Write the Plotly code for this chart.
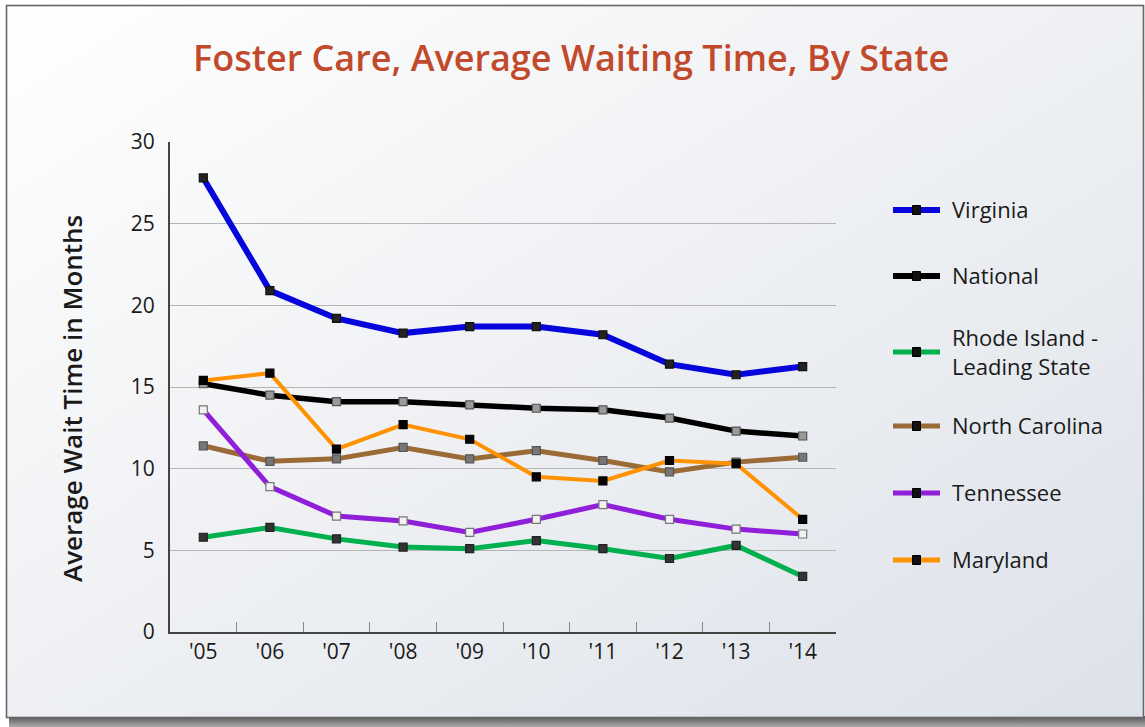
import base64
import plotly.graph_objects as go

W, H = 1145, 727

years = ["'05", "'06", "'07", "'08", "'09", "'10", "'11", "'12", "'13", "'14"]
series_names = ["Virginia", "National", "Rhode Island -<br>Leading State",
                "North Carolina", "Tennessee", "Maryland"]
virginia = [27.8, 20.9, 19.2, 18.3, 18.7, 18.7, 18.2, 16.4, 15.75, 16.25]
national = [15.2, 14.5, 14.1, 14.1, 13.9, 13.7, 13.6, 13.1, 12.3, 12.0]
rhode_island = [5.8, 6.4, 5.7, 5.2, 5.1, 5.6, 5.1, 4.5, 5.3, 3.4]
north_carolina = [11.4, 10.45, 10.6, 11.3, 10.6, 11.1, 10.5, 9.8, 10.4, 10.7]
tennessee = [13.6, 8.9, 7.1, 6.8, 6.1, 6.9, 7.8, 6.9, 6.3, 6.0]
maryland = [15.4, 15.85, 11.2, 12.7, 11.8, 9.5, 9.25, 10.5, 10.3, 6.9]
y_ticks = [0, 5, 10, 15, 20, 25, 30]

line_colors = ["#0505dc", "#000000", "#00b04f", "#9a6a37", "#8f1fd8", "#ff9200"]
line_widths = [6, 5.5, 5, 5, 5, 4]
marker_fill = ["#222222", "#9a9a9a", "#333333", "#777777", "#f2f2f2", "#050505"]
marker_line = ["#111111", "#555555", "#222222", "#555555", "#777777", "#000000"]
values = [virginia, national, rhode_island, north_carolina, tennessee, maryland]

# background frame as svg image
svg = f'''<svg xmlns="http://www.w3.org/2000/svg" width="{W}" height="{H}" viewBox="0 0 {W} {H}">
<defs>
<linearGradient id="g" x1="0" y1="0" x2="1" y2="1">
<stop offset="0" stop-color="#ffffff"/>
<stop offset="0.5" stop-color="#eef0f3"/>
<stop offset="1" stop-color="#dde2ea"/>
</linearGradient>
<linearGradient id="s" x1="0" y1="0" x2="0" y2="1">
<stop offset="0" stop-color="#555555"/>
<stop offset="1" stop-color="#aaaaaa"/>
</linearGradient>
</defs>
<rect x="0" y="0" width="{W}" height="{H}" fill="#ffffff"/>
<rect x="9" y="716" width="{W-9}" height="11" fill="url(#s)"/>
<rect x="6.5" y="5.5" width="1137" height="712" fill="url(#g)" stroke="#666666" stroke-width="1.6"/>
</svg>'''
uri = "data:image/svg+xml;base64," + base64.b64encode(svg.encode()).decode()

fig = go.Figure()

draw_order = [3, 1, 0, 2, 4, 5]
for i in draw_order:
    fig.add_trace(go.Scatter(
        x=years, y=values[i], mode="lines+markers",
        name=series_names[i].replace("<br>", " "),
        line=dict(color=line_colors[i], width=line_widths[i]),
        marker=dict(symbol="square", size=8, color=marker_fill[i],
                    line=dict(color=marker_line[i], width=1.2)),
        showlegend=False, hoverinfo="x+y+name",
    ))

x0, x1 = 170 / W, 836 / W
y0, y1 = 1 - 632 / H, 1 - 142 / H

def px(x):
    return x / W

def py(y):
    return 1 - y / H

shapes = []
annotations = []
legend_y = [210, 276, 352, 426, 493, 560]
for i, name in enumerate(series_names):
    yy = legend_y[i]
    shapes.append(dict(type="line", xref="paper", yref="paper",
                       x0=px(893), x1=px(940), y0=py(yy), y1=py(yy),
                       line=dict(color=line_colors[i], width=6 if i < 2 else 5)))
    shapes.append(dict(type="rect", xref="paper", yref="paper",
                       x0=px(912.5), x1=px(920.5), y0=py(yy - 4.5), y1=py(yy + 4.5),
                       fillcolor="#111111", line=dict(color="#000000", width=1)))
    annotations.append(dict(xref="paper", yref="paper", x=px(950), y=py(yy - 1),
                            text=name, showarrow=False, xanchor="left", yanchor="middle",
                            align="left",
                            font=dict(family="Open Sans", size=22, color="#1a1a1a")))

annotations.append(dict(xref="paper", yref="paper", x=px(571), y=py(57),
                        text="Foster Care, Average Waiting Time, By State",
                        showarrow=False, xanchor="center", yanchor="middle",
                        font=dict(family="Open Sans", size=36, color="#c24a2c", weight=600)))
annotations.append(dict(xref="paper", yref="paper", x=px(72), y=py(399),
                        text="Average Wait Time in Months", textangle=-90,
                        showarrow=False, xanchor="center", yanchor="middle",
                        font=dict(family="Open Sans", size=26, color="#1a1a1a", weight=600)))

fig.update_layout(
    width=W, height=H,
    margin=dict(l=0, r=0, t=0, b=0),
    paper_bgcolor="#ffffff",
    plot_bgcolor="rgba(0,0,0,0)",
    images=[dict(source=uri, xref="paper", yref="paper", x=0, y=1,
                 sizex=1, sizey=1, xanchor="left", yanchor="top",
                 sizing="stretch", layer="below")],
    shapes=shapes,
    annotations=annotations,
    showlegend=False,
    xaxis=dict(domain=[x0, x1], type="category", range=[-0.5, 9.5],
               tickson="boundaries", ticks="inside", ticklen=10, tickcolor="#888888",
               tickwidth=1.2, showgrid=False, showline=True, linecolor="#444444",
               linewidth=2, zeroline=False, automargin=False,
               tickfont=dict(family="Open Sans", size=21, color="#1a1a1a")),
    yaxis=dict(domain=[y0, y1], range=[0, 30], tickvals=y_ticks,
               showgrid=True, gridcolor="#b5b5b5", gridwidth=1.3,
               showline=True, linecolor="#444444", linewidth=2, zeroline=False,
               ticks="", automargin=False, ticklabelstandoff=9,
               tickfont=dict(family="Open Sans", size=21, color="#1a1a1a")),
)

fig.write_html("out.html", config={"displayModeBar": False},
               post_script="document.body.style.margin='0';")
